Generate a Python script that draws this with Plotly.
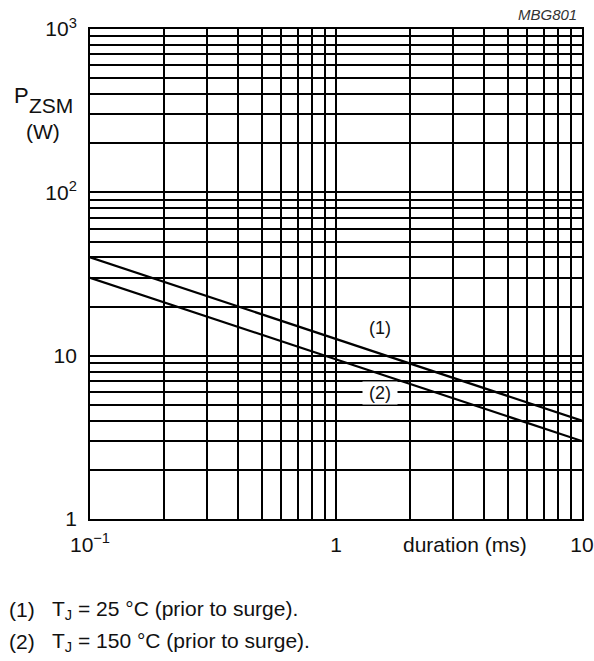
import math
import plotly.graph_objects as go

# ---- data ----
duration_ms = [0.1, 1, 10]
p_tj25 = [40, 12.6, 4]
p_tj150 = [30, 9.5, 3]

x_grid = [m * 10 ** e for e in (-1, 0) for m in range(1, 10)] + [10]
x_ticktext = ["10<sup>−1</sup>"] + [""] * 8 + ["1"] + [""] * 8 + ["10"]
y_grid = [m * 10 ** e for e in (0, 1, 2) for m in range(1, 10)] + [1000]
y_ticktext = ["1"] + [""] * 8 + ["10"] + [""] * 8 + ["10<sup>2</sup>"] + [""] * 8 + ["10<sup>3</sup>"]

FONT = "Liberation Sans, Arial, sans-serif"
FS = 21
TC = "#111"

fig = go.Figure()
for ys in (p_tj25, p_tj150):
    fig.add_trace(go.Scatter(x=duration_ms, y=ys, mode="lines",
                             line=dict(color="black", width=2.2), showlegend=False,
                             hoverinfo="skip"))

axis_common = dict(showline=True, linecolor="black", linewidth=1.8, mirror=True,
                   showgrid=True, gridcolor="black", gridwidth=1.6,
                   ticks="", zeroline=False, automargin=False,
                   tickfont=dict(family=FONT, size=FS, color=TC))

fig.update_xaxes(type="log", range=[-1, 1], tickmode="array",
                 tickvals=x_grid, ticktext=x_ticktext, ticklabelstandoff=6,
                 **axis_common)
fig.update_yaxes(type="log", range=[0, 3], tickmode="array",
                 tickvals=y_grid, ticktext=y_ticktext, ticklabelstandoff=7,
                 **axis_common)

def f(size):
    return dict(family=FONT, size=size, color=TC)

ann = [
    dict(text="(1)", x=math.log10(1.51), y=math.log10(14.7), xref="x", yref="y",
         showarrow=False, font=f(18)),
    dict(text="(2)", x=math.log10(1.51), y=math.log10(5.9), xref="x", yref="y",
         showarrow=False, bgcolor="white", width=32, font=f(18)),
    dict(text="duration (ms)", x=465, y=545, showarrow=False, font=f(FS)),
    dict(text="P", x=12, y=95, xanchor="left", showarrow=False, font=f(22)),
    dict(text="ZSM", x=27, y=105, xanchor="left", showarrow=False, font=f(21)),
    dict(text="(W)", x=43, y=131, showarrow=False, font=f(21)),
    dict(text="<i>MBG801</i>", x=579, y=14, xanchor="right", showarrow=False,
         font=dict(family=FONT, size=15, color="#333")),
    dict(text="(1)", x=7, y=610, xanchor="left", showarrow=False, font=f(FS)),
    dict(text="T<sub>J</sub> = 25 °C (prior to surge).", x=50, y=610, xanchor="left",
         showarrow=False, font=f(FS)),
    dict(text="(2)", x=7, y=642, xanchor="left", showarrow=False, font=f(FS)),
    dict(text="T<sub>J</sub> = 150 °C (prior to surge).", x=50, y=642, xanchor="left",
         showarrow=False, font=f(FS)),
]
# convert pixel positions for paper annotations
L, R, T, B = 90, 582, 28.5, 519
for a in ann:
    a.setdefault("xanchor", "center")
    a["yanchor"] = "middle"
    if a.get("xref") != "x":
        a["xref"] = "paper"
        a["yref"] = "paper"
        a["x"] = (a["x"] - L) / (R - L)
        a["y"] = (B - a["y"]) / (B - T)

fig.update_layout(width=594, height=661, autosize=False,
                  margin=dict(l=L, r=594 - R, t=T, b=661 - B, pad=0),
                  paper_bgcolor="white", plot_bgcolor="white",
                  annotations=ann, font=dict(family=FONT))

fig.write_html("out.html", config={"displayModeBar": False},
               post_script="document.body.style.margin='0';document.body.style.padding='0';")
